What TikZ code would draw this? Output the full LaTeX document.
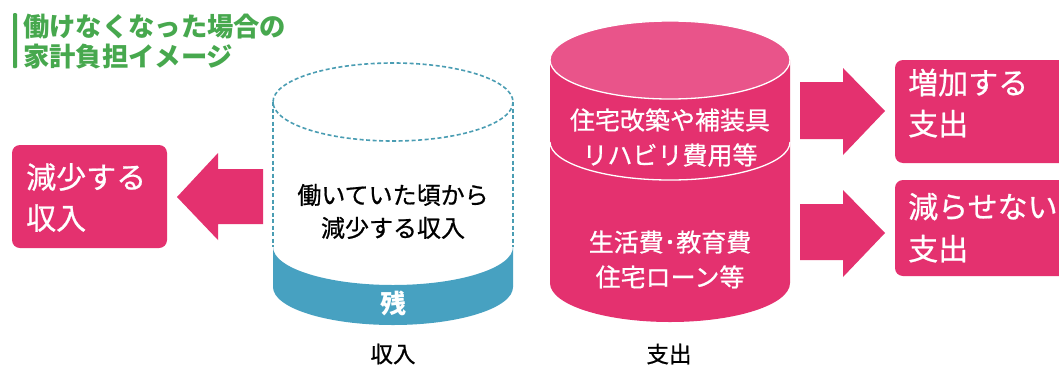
\documentclass[tikz,border=0pt]{standalone}
\usepackage{fontspec}
\newfontfamily\jp{Noto Sans CJK JP}
\newfontfamily\jpm[FakeBold=0.7]{Noto Sans CJK JP}
\definecolor{pk}{HTML}{E4316F}
\definecolor{pkl}{HTML}{E9548A}
\definecolor{bl}{HTML}{47A1C1}
\definecolor{dbl}{HTML}{4A9DB3}
\definecolor{gr}{HTML}{47A84E}
\begin{document}
\begin{tikzpicture}[x=1pt,y=-1pt,
  txt/.style={inner sep=0pt,font=\jpm},
  wbox/.style={fill=pk,rounded corners=8pt},
  blk/.style={fill=pk}]
\clip (0,0) rectangle (1059,367);
\fill[white] (0,0) rectangle (1059,367);
% title
\fill[gr,rounded corners=1pt] (13,13) rectangle (17,68);
\node[txt,anchor=base west,text=gr,font=\jp\bfseries\fontsize{26.3}{26.3}\selectfont] (t1) at (23,36) {働けなくなった場合の};
\node[txt,anchor=base west,text=gr,font=\jp\bfseries\fontsize{26.3}{26.3}\selectfont] (t2) at (23,66) {家計負担イメージ};
% left box
\fill[wbox] (12,145) rectangle (167,248);
\node[txt,anchor=base west,text=white,font=\jpm\fontsize{30}{30}\selectfont] (l1) at (26,188.4) {減少する};
\node[txt,anchor=base west,text=white,font=\jpm\fontsize{30}{30}\selectfont] (l2) at (26,229.4) {収入};
% left arrow
\fill[blk] (177,197) -- (218,153) -- (218,169) -- (263,169) -- (263,224) -- (218,224) -- (218,240) -- cycle;
% income cylinder
\fill[bl] (273,247) arc[start angle=180,end angle=0,x radius=120,y radius=38] -- (513,287) arc[start angle=0,end angle=180,x radius=120,y radius=38] -- cycle;
\draw[dbl,line width=1.6pt,dash pattern=on 4pt off 2.5pt] (393,102) ellipse [x radius=120,y radius=39];
\draw[dbl,line width=1.6pt,dash pattern=on 4pt off 2.5pt] (273,102) -- (273,247);
\draw[dbl,line width=1.6pt,dash pattern=on 4pt off 2.5pt] (513,102) -- (513,247);
\node[txt,anchor=base,text=black,font=\jpm\fontsize{24}{24}\selectfont] (i1) at (393,204) {働いていた頃から};
\node[txt,anchor=base,text=black,font=\jpm\fontsize{24}{24}\selectfont] (i2) at (393,237) {減少する収入};
\node[txt,anchor=base,text=white,font=\jp\bfseries\fontsize{26}{26}\selectfont] (z) at (393,313) {残};
\node[txt,anchor=base,text=black,font=\jpm\fontsize{22.5}{22.5}\selectfont] (inc) at (393,362.5) {収入};
% expense cylinder
\fill[pk] (550,60) -- (550,283) arc[start angle=180,end angle=0,x radius=120,y radius=39] -- (790,60) -- cycle;
\filldraw[fill=pkl,draw=white,line width=1.3pt] (670,60) ellipse [x radius=120,y radius=39];
\draw[white,line width=1.3pt] (550,142) arc[start angle=180,end angle=0,x radius=120,y radius=38];
\node[txt,anchor=base,text=white,font=\jpm\fontsize{25}{25}\selectfont] (e1) at (670,129.5) {住宅改築や補装具};
\node[txt,anchor=base,text=white,font=\jpm\fontsize{25}{25}\selectfont] (e2) at (670,164.5) {リハビリ費用等};
\node[txt,anchor=base,text=white,font=\jpm\fontsize{25}{25}\selectfont] (e3) at (670,251.5) {生活費･教育費};
\node[txt,anchor=base,text=white,font=\jpm\fontsize{25}{25}\selectfont] (e4) at (670,286.5) {住宅ローン等};
\node[txt,anchor=base,text=black,font=\jpm\fontsize{22.5}{22.5}\selectfont] (exp) at (669,362.5) {支出};
% right arrows
\fill[blk] (885,111) -- (843,68) -- (843,82) -- (800,82) -- (800,139) -- (843,139) -- (843,155) -- cycle;
\fill[blk] (885,233) -- (843,190) -- (843,204) -- (800,204) -- (800,260) -- (843,260) -- (843,277) -- cycle;
% right boxes
\fill[wbox] (895,60) rectangle (1075,163);
\fill[wbox] (895,180) rectangle (1075,276);
\node[txt,anchor=base west,text=white,font=\jpm\fontsize{30}{30}\selectfont] (r1) at (908,94) {増加する};
\node[txt,anchor=base west,text=white,font=\jpm\fontsize{30}{30}\selectfont] (r2) at (908,135) {支出};
\node[txt,anchor=base west,text=white,font=\jpm\fontsize{30}{30}\selectfont] (r3) at (908,218) {減らせない};
\node[txt,anchor=base west,text=white,font=\jpm\fontsize{30}{30}\selectfont] (r4) at (908,260) {支出};
\end{tikzpicture}
\end{document}
